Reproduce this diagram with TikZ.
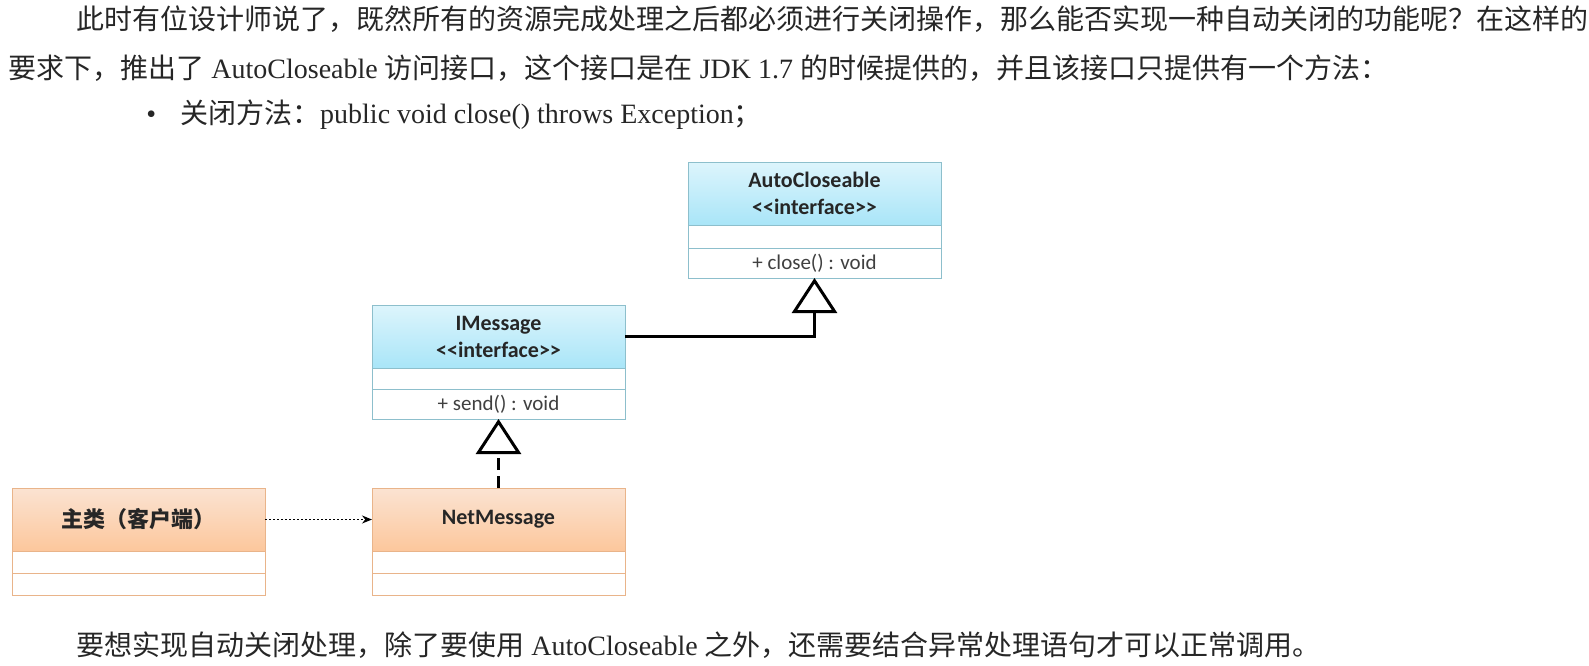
\documentclass[tikz,border=0pt]{standalone}
\usepackage{fontspec}
\setmainfont{Liberation Serif}
\newfontfamily\cjk{Noto Sans CJK SC}
\newfontfamily\umlfont{Carlito}
\usetikzlibrary{positioning,arrows.meta}

\definecolor{ifaceTop}{HTML}{DDF5FC}
\definecolor{ifaceBot}{HTML}{A9E5F8}
\definecolor{ifaceLine}{HTML}{8DBFCC}
\definecolor{classTop}{HTML}{FBE3D2}
\definecolor{classBot}{HTML}{FCC79C}
\definecolor{classLine}{HTML}{E9B48A}

\tikzset{
  para/.style={anchor=west, inner sep=0pt, text=black!85, font=\fontsize{14}{16}\selectfont},
  head/.style={anchor=north west, minimum width=126.5pt, minimum height=31.5pt,
    inner sep=0pt, outer sep=0pt, align=center, text=black!85,
    font=\umlfont\bfseries\fontsize{11}{13.5}\selectfont},
  ifacehead/.style={head, draw=ifaceLine, top color=ifaceTop, bottom color=ifaceBot},
  classhead/.style={head, draw=classLine, top color=classTop, bottom color=classBot},
  row/.style={minimum width=126.5pt, minimum height=#1, inner sep=0pt, outer sep=0pt,
    fill=white, text=black!75, font=\umlfont\fontsize{10.5}{12}\selectfont},
  ifacerow/.style={row=#1, draw=ifaceLine},
  classrow/.style={row=#1, draw=classLine},
  realize/.style={-{Triangle[open,length=17.5pt,width=22.5pt,line width=1.5pt]}},
}

\begin{document}
\begin{tikzpicture}[x=0.5pt,y=-0.5pt]
    \useasboundingbox (0,0) rectangle (1589,665);

    % text above
    \node[para] (line1) at (76,19) {\cjk 此时有位设计师说了，既然所有的资源完成处理之后都必须进行关闭操作，那么能否实现一种自动关闭的功能呢？在这样的};
    \node[para] (line2) at (8,68) {{\cjk 要求下，推出了} AutoCloseable {\cjk 访问接口，这个接口是在} JDK 1.7 {\cjk 的时候提供的，并且该接口只提供有一个方法：}};
    \node[para] (line3) at (146,115) {\textbullet\hspace{12pt}{\cjk 关闭方法：}public void close() throws Exception{\cjk ；}};

    % AutoCloseable
    \node[ifacehead] (acHead) at (688,162) {AutoCloseable\\<{}<interface>{}>};
    \node[ifacerow=11.5pt, below=0pt of acHead] (acAttr) {};
    \node[ifacerow=15pt, below=0pt of acAttr] (acMeth) {+ close() : void};

    % IMessage
    \node[ifacehead] (imHead) at (372,305) {IMessage\\<{}<interface>{}>};
    \node[ifacerow=10.5pt, below=0pt of imHead] (imAttr) {};
    \node[ifacerow=15pt, below=0pt of imAttr] (imMeth) {+ send() : void};

    % main class and NetMessage
    \node[classhead] (mainHead) at (12,488) {\cjk\bfseries 主类（客户端）};
    \node[classrow=11pt, below=0pt of mainHead] (mainAttr) {};
    \node[classrow=11pt, below=0pt of mainAttr] (mainMeth) {};

    \node[classhead] (nmHead) at (372,488) {NetMessage};
    \node[classrow=11pt, below=0pt of nmHead] (nmAttr) {};
    \node[classrow=11pt, below=0pt of nmAttr] (nmMeth) {};

    % connectors
    \draw[line width=1.5pt, realize] (imHead.east) -| (acMeth.south);
    \draw[line width=1.3pt, dash pattern=on 6pt off 3pt, realize] (nmHead.north) -- (imMeth.south);
    \draw[line width=0.5pt, dash pattern=on 1pt off 1pt, -{Stealth[length=5pt,width=4pt]}] (mainHead.east) -- (nmHead.west);

    % text below
    \node[para] (line4) at (76,645) {{\cjk 要想实现自动关闭处理，除了要使用} AutoCloseable {\cjk 之外，还需要结合异常处理语句才可以正常调用。}};
\end{tikzpicture}
\end{document}
